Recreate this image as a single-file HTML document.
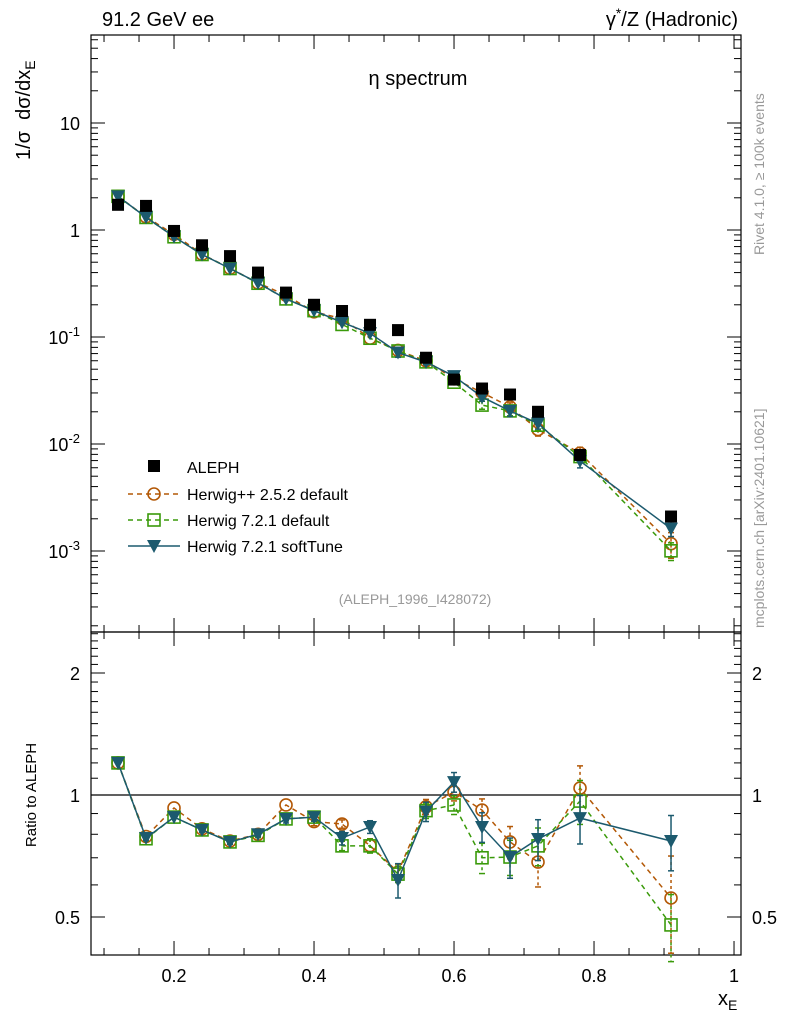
<!DOCTYPE html>
<html><head><meta charset="utf-8"><style>
body{margin:0;background:#fff}
svg{display:block;font-family:"Liberation Sans",sans-serif}
</style></head><body>
<svg id="c" width="786" height="1024" viewBox="0 0 786 1024"></svg>
<script>
const xs=[0.12,0.16,0.20,0.24,0.28,0.32,0.36,0.40,0.44,0.48,0.52,0.56,0.60,0.64,0.68,0.72,0.78,0.91];
const aleph=[1.72,1.68,0.98,0.72,0.57,0.40,0.26,0.20,0.175,0.13,0.116,0.064,0.040,0.033,0.029,0.020,0.0079,0.0021];
const rHpp=[1.20,0.79,0.929,0.825,0.77,0.80,0.945,0.86,0.848,0.75,0.645,0.935,1.017,0.918,0.766,0.683,1.04,0.557];
const rH721=[1.20,0.78,0.882,0.82,0.766,0.795,0.873,0.882,0.749,0.749,0.638,0.915,0.945,0.70,0.703,0.749,0.966,0.478];
const rSoft=[1.20,0.783,0.882,0.82,0.766,0.80,0.873,0.882,0.783,0.834,0.617,0.91,1.076,0.834,0.703,0.779,0.877,0.77];
const eHpp=[0.01,0.01,0.01,0.01,0.01,0.01,0.01,0.02,0.02,0.03,0.03,0.04,0.05,0.06,0.07,0.09,0.14,0.15];
const eH721=[0.01,0.01,0.01,0.01,0.01,0.01,0.01,0.02,0.02,0.03,0.03,0.04,0.05,0.06,0.07,0.08,0.12,0.09];
const eSoft=[0.01,0.01,0.01,0.01,0.01,0.01,0.02,0.02,0.03,0.03,0.06,0.05,0.06,0.07,0.08,0.09,0.12,0.12];
const xTicks=[0.2,0.4,0.6,0.8,1];
const yTicks=[10,1,0.1,0.01,0.001];
const yTickLabels=["10","1","10^-1","10^-2","10^-3"];
const rTicks=[0.5,1,2];

const L=91,R=741,T=35,MB=632,RB=955;
const NS="http://www.w3.org/2000/svg";
const svg=document.getElementById('c');
function X(v){return L+(v-0.0814)*700;}
function Y(v){return 230-107*Math.log10(v);}
function RY(v){return 795-122*Math.log2(v);}
function el(t,a,p){const e=document.createElementNS(NS,t);for(const k in a)e.setAttribute(k,a[k]);(p||svg).appendChild(e);return e;}
function line(x1,y1,x2,y2,st,w,d){return el('line',{x1,y1,x2,y2,stroke:st||'#000','stroke-width':w||1,'stroke-dasharray':d||'none'});}
function txt(x,y,s,sz,anchor,col){const e=el('text',{x,y,'font-size':sz,'text-anchor':anchor||'start',fill:col||'#000'});e.textContent=s;return e;}

let f=el('rect',{x:L,y:T,width:R-L,height:MB-T,fill:'none',stroke:'#000','stroke-width':1.2});


f=el('rect',{x:L,y:MB,width:R-L,height:RB-MB,fill:'none',stroke:'#000','stroke-width':1.2});



for(let v=0.1;v<=1.0001;v+=0.05){
  const x=X(v);const maj=xTicks.some(t=>Math.abs(t-v)<1e-6);
  const len=maj?14:7;
  line(x,RB,x,RB-len);line(x,MB,x,MB-len);line(x,T,x,T+len);
  line(x,MB,x,MB+len);
}
xTicks.forEach(t=>{const e=txt(X(t),982,String(t),18,'middle');

});

for(let d=-4;d<=1;d++){for(let m=1;m<10;m++){const v=m*Math.pow(10,d);const y=Y(v);if(y<T||y>MB)continue;
const len=m==1?14:7;line(L,y,L+len,y);line(R,y,R-len,y);}}
yTicks.forEach((t,i)=>{const y=Y(t);const s=yTickLabels[i];
let e;
if(s.indexOf('^')<0){e=txt(80,y+7,s,18,'end');}
else{e=el('text',{x:80,y:y+7,'font-size':18,'text-anchor':'end'});
const parts=s.split('^');const a=document.createElementNS(NS,'tspan');a.textContent=parts[0];e.appendChild(a);
const b=document.createElementNS(NS,'tspan');b.setAttribute('dy',-8);b.setAttribute('font-size',13);b.textContent=parts[1];e.appendChild(b);}

});

for(let v=0.4;v<=2.6;v+=0.1){const y=RY(v);if(y<MB||y>RB)continue;
const maj=rTicks.some(t=>Math.abs(t-v)<1e-6);const len=maj?14:7;line(L,y,L+len,y);line(R,y,R-len,y);}
rTicks.forEach(t=>{const y=RY(t);let e=txt(80,y+7,String(t),18,'end');


e=txt(752,y+7,String(t),18,'start');

});
line(L,RY(1),R,RY(1),'#000',1.3);

const series=[
 {name:'herwigpp-2-5-2',r:rHpp,e:eHpp,col:'#b35806',dash:'5,4',mk:'circle'},
 {name:'herwig-7-2-1-default',r:rH721,e:eH721,col:'#3a9a0a',dash:'5,4',mk:'square'},
 {name:'herwig-7-2-1-softtune',r:rSoft,e:eSoft,col:'#1c5a6e',dash:'none',mk:'tri'}];
function marker(g,x,y,s){
  if(s.mk=='circle')el('circle',{cx:x,cy:y,r:6,fill:'#fff','fill-opacity':0,stroke:s.col,'stroke-width':1.6},g);
  else if(s.mk=='square')el('rect',{x:x-6,y:y-6,width:12,height:12,fill:'none',stroke:s.col,'stroke-width':1.6},g);
  else el('polygon',{points:`${x-7},${y-6} ${x+7},${y-6} ${x},${y+7}`,fill:s.col},g);
}
series.forEach(s=>{
 ['main','ratio'].forEach(panel=>{
  const g=el('g',{});
  
  
  const yv=i=>panel=='main'?Y(s.r[i]*aleph[i]):RY(s.r[i]);
  const pts=xs.map((x,i)=>X(x)+','+yv(i)).join(' ');
  el('polyline',{points:pts,fill:'none',stroke:s.col,'stroke-width':1.5,'stroke-dasharray':s.dash},g);
  xs.forEach((x,i)=>{
    const v=s.r[i],e=s.e[i];
    const y1=panel=='main'?Y((v+e)*aleph[i]):RY(v+e), y2=panel=='main'?Y((v-e)*aleph[i]):RY(v-e);
    if(y2-y1>4){el('line',{x1:X(x),y1,x2:X(x),y2,stroke:s.col,'stroke-width':1.5,'stroke-dasharray':s.dash=='none'?'none':'3,3'},g);
      el('line',{x1:X(x)-3,y1,x2:X(x)+3,y2:y1,stroke:s.col,'stroke-width':1.5},g);
      el('line',{x1:X(x)-3,y1:y2,x2:X(x)+3,y2,stroke:s.col,'stroke-width':1.5},g);}
    marker(g,X(x),yv(i),s);
  });
 });
});
const ga=el('g',{});


xs.forEach((x,i)=>{el('rect',{x:X(x)-6,y:Y(aleph[i])-6,width:12,height:12,fill:'#000'},ga);});

const lg=el('g',{});


el('rect',{x:148,y:460,width:12,height:12,fill:'#000'},lg);
let t=txt(187,473,'ALEPH',16);lg.appendChild(t);
const labs=['Herwig++ 2.5.2 default','Herwig 7.2.1 default','Herwig 7.2.1 softTune'];
series.forEach((s,i)=>{const y=494+i*26;
 el('line',{x1:128,y1:y,x2:180,y2:y,stroke:s.col,'stroke-width':1.5,'stroke-dasharray':s.dash},lg);
 marker(lg,154,y,s);
 const tt=txt(187,y+6,labs[i],16);lg.appendChild(tt);});

let e=txt(102,26,'91.2 GeV ee',20);
e=el('text',{x:738,y:26,'font-size':20,'text-anchor':'end'});e.innerHTML='γ<tspan font-size="14" dy="-8">*</tspan><tspan dy="8">/Z (Hadronic)</tspan>';

e=txt(418,85,'η spectrum',20,'middle');
e=txt(415,604,'(ALEPH_1996_I428072)',14,'middle','#999');
e=el('text',{x:0,y:0,'font-size':20,transform:'translate(30,160) rotate(-90)'});e.innerHTML='1/σ &#160;dσ/dx<tspan font-size="14" dy="5">E</tspan>';

e=el('text',{x:0,y:0,'font-size':15,'text-anchor':'middle',transform:'translate(36,795) rotate(-90)'});e.textContent='Ratio to ALEPH';

e=el('text',{x:718,y:1005,'font-size':20});e.innerHTML='x<tspan font-size="14" dy="5">E</tspan>';

e=el('text',{x:0,y:0,'font-size':14,fill:'#999',transform:'translate(764,255) rotate(-90)'});e.textContent='Rivet 4.1.0, ≥ 100k events';

e=el('text',{x:0,y:0,'font-size':14,fill:'#999',transform:'translate(764,628) rotate(-90)'});e.textContent='mcplots.cern.ch [arXiv:2401.10621]';

</script>
</body></html>
